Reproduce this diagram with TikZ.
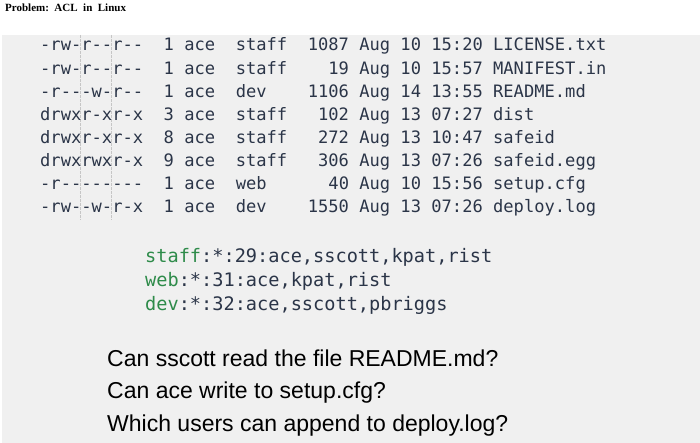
\documentclass[tikz,border=0pt]{standalone}
\usepackage{fontspec}
\setmainfont{Liberation Serif}
\newfontfamily\monof{DejaVu Sans Mono}
\newfontfamily\sansf{Liberation Sans}
\begin{document}
\begin{tikzpicture}[x=1pt,y=-1pt,
  mono/.style={font=\monof\fontsize{17.1}{18}\selectfont,text=navy,inner sep=0pt,anchor=base west},
  grpl/.style={font=\monof\fontsize{18.6}{20}\selectfont,text=navy,inner sep=0pt,anchor=base west},
  ques/.style={font=\sansf\fontsize{23}{26}\selectfont,text=black,inner sep=0pt,anchor=base west},
  ]
\definecolor{navy}{HTML}{2B3548}
\definecolor{grp}{HTML}{2E8B4A}
\definecolor{bgc}{HTML}{F0F0F0}
\useasboundingbox (0,0) rectangle (700,443);
\fill[bgc] (2,35) rectangle (700,443);
\draw[gray!45,dash pattern=on 3pt off 1pt] (80,35) -- (80,220) (111,35) -- (111,220);
\node[anchor=west,inner sep=0pt,font=\bfseries\fontsize{11}{13}\selectfont] (title) at (5,8) {Problem:\ \ ACL\ \ in\ \ Linux};
\foreach \i/\r in {
 0/{-rw-r--r--~~1~ace~~staff~~1087~Aug~10~15:20~LICENSE.txt},
 1/{-rw-r--r--~~1~ace~~staff~~~~19~Aug~10~15:57~MANIFEST.in},
 2/{-r---w-r--~~1~ace~~dev~~~~1106~Aug~14~13:55~README.md},
 3/{drwxr-xr-x~~3~ace~~staff~~~102~Aug~13~07:27~dist},
 4/{drwxr-xr-x~~8~ace~~staff~~~272~Aug~13~10:47~safeid},
 5/{drwxrwxr-x~~9~ace~~staff~~~306~Aug~13~07:26~safeid.egg},
 6/{-r--------~~1~ace~~web~~~~~~40~Aug~10~15:56~setup.cfg},
 7/{-rw--w-r-x~~1~ace~~dev~~~~1550~Aug~13~07:26~deploy.log}}{
  \pgfmathsetmacro\yy{51+23.1*\i}
  \node[mono] (r\i) at (40,\yy) {\r};
}
\node[grpl] (l1) at (145,262) {\textcolor{grp}{staff}:*:29:ace,sscott,kpat,rist};
\node[grpl] (l2) at (145,286) {\textcolor{grp}{web}:*:31:ace,kpat,rist};
\node[grpl] (l3) at (145,310) {\textcolor{grp}{dev}:*:32:ace,sscott,pbriggs};
\node[ques] (q1) at (107,366) {Can sscott read the file README.md?};
\node[ques] (q2) at (107,398) {Can ace write to setup.cfg?};
\node[ques] (q3) at (107,431) {Which users can append to deploy.log?};
\end{tikzpicture}
\end{document}
